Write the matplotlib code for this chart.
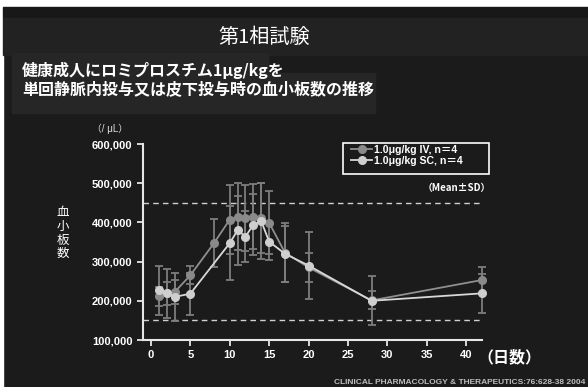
import matplotlib
matplotlib.use("Agg")
import matplotlib.pyplot as plt
from matplotlib.patches import Rectangle

# ---- data ----
iv_days = [1, 2, 3, 5, 8, 10, 11, 12, 13, 14, 15, 17, 20, 28, 42]
iv_mean = [211000, 219000, 222000, 265000, 347000, 407000, 415000, 411000, 415000, 412000, 399000, 323000, 285000, 201000, 253000]
iv_sd   = [23000, 30000, 30000, 23000, 62000, 88000, 86000, 85000, 83000, 89000, 80000, 75000, 37000, 23000, 34000]
sc_days = [1, 2, 3, 5, 10, 11, 12, 13, 14, 15, 17, 20, 28, 42]
sc_mean = [227000, 219000, 210000, 218000, 347000, 380000, 364000, 394000, 403000, 351000, 320000, 290000, 200000, 219000]
sc_sd   = [62000, 62000, 62000, 54000, 95000, 88000, 66000, 78000, 97000, 47000, 72000, 85000, 62000, 50000]
y_ticks = [100000, 200000, 300000, 400000, 500000, 600000]
x_ticks = [0, 5, 10, 15, 20, 25, 30, 35, 40]
normal_range = [150000, 450000]
legend_labels = ["1.0μg/kg IV, n＝4", "1.0μg/kg SC, n＝4"]

W, H = 588, 387
fig = plt.figure(figsize=(W / 100, H / 100), dpi=100)
fig.patch.set_facecolor("#1b1b1b")

LAT = ["Liberation Sans", "Noto Sans CJK JP", "DejaVu Sans"]
JP = ["Noto Sans CJK JP", "DejaVu Sans"]

def px(x, y):
    return x / W, 1 - y / H

# background decorations
bg = fig.add_axes([0, 0, 1, 1])
bg.set_xlim(0, W); bg.set_ylim(H, 0); bg.axis("off")
bg.add_patch(Rectangle((0, 0), W, 6.5, color="white"))
bg.add_patch(Rectangle((0, 0), 3, H, color="white"))
bg.add_patch(Rectangle((3, 6.5), W, 11, color="#181818"))
bg.add_patch(Rectangle((3, 17.5), W, 37, color="#222222"))
bg.add_patch(Rectangle((12, 53), 256, 25, color="#262626"))
bg.add_patch(Rectangle((12, 73), 363, 40, color="#262626"))

fig.text(*px(264, 37), "第1相試験", family=JP, fontsize=14.5, color="white",
         ha="center", va="center")
fig.text(*px(22, 70), "健康成人にロミプロスチム1μg/kgを", family=JP, fontsize=11.5,
         weight="bold", color="white", ha="left", va="center")
fig.text(*px(22, 89), "単回静脈内投与又は皮下投与時の血小板数の推移", family=JP, fontsize=11.5,
         weight="bold", color="white", ha="left", va="center")

ax = fig.add_axes([143 / W, 47 / H, 339 / W, 196 / H])
ax.set_facecolor("#1b1b1b")
ax.set_xlim(-1, 42)
ax.set_ylim(100000, 600000)

for v in normal_range:
    ax.axhline(v, color="#d0d0d0", lw=1.0, ls=(0, (4, 3)), zorder=1)

iv_col, sc_col = "#8a8a8a", "#cfcfcf"
ax.errorbar(iv_days, iv_mean, yerr=iv_sd, fmt="none", ecolor="#7d7d7d", elinewidth=1.3,
            capsize=3, capthick=1.3, zorder=2, clip_on=False)
ax.errorbar(sc_days, sc_mean, yerr=sc_sd, fmt="none", ecolor="#7d7d7d", elinewidth=1.3,
            capsize=3, capthick=1.3, zorder=2, clip_on=False)
l1, = ax.plot(iv_days, iv_mean, "-o", color="#8f8f8f", mfc=iv_col, mec=iv_col, ms=5.5,
              lw=1.3, zorder=3, clip_on=False)
l2, = ax.plot(sc_days, sc_mean, "-o", color="#d8d8d8", mfc=sc_col, mec=sc_col, ms=5.5,
              lw=1.3, zorder=4, clip_on=False)

for s in ["top", "right"]:
    ax.spines[s].set_visible(False)
for s in ["left", "bottom"]:
    ax.spines[s].set_color("#e6e6e6")
    ax.spines[s].set_linewidth(1.5)
ax.set_yticks(y_ticks)
ax.set_yticklabels([f"{v:,}" for v in y_ticks])
ax.set_xticks(x_ticks)
ax.tick_params(colors="#e6e6e6", width=1.3, length=4, direction="out")
for lab in ax.get_xticklabels() + ax.get_yticklabels():
    lab.set_family(LAT); lab.set_weight("bold"); lab.set_fontsize(8); lab.set_color("white")

# legend frame drawn separately (wider than its content in the original)
ax.add_patch(Rectangle(((343 - 143) / 339, (340 - 174) / 196), (489 - 343) / 339, 31 / 196,
                       transform=ax.transAxes, fill=False, edgecolor="white", lw=1.2,
                       clip_on=False, zorder=5))
leg = ax.legend([l1, l2], legend_labels, loc="upper left",
                bbox_to_anchor=((351 - 143) / 339, (340 - 145) / 196), frameon=False,
                prop={"family": LAT, "weight": "bold", "size": 7.6}, handlelength=2.0,
                handletextpad=0.2, borderpad=0, labelspacing=0.05, borderaxespad=0)
for t in leg.get_texts():
    t.set_color("white")

fig.text(*px(491, 188), "（Mean±SD）", family=JP, fontsize=7, weight="bold",
         color="white", ha="right", va="center")
fig.text(*px(110, 129), "（/ μL）", family=LAT, fontsize=7, color="#dddddd",
         ha="center", va="center")
for i, ch in enumerate("血小板数"):
    fig.text(*px(63, 213 + i * 13.5), ch, family=JP, fontsize=9, color="white",
             ha="center", va="center")
fig.text(*px(477, 357), "（日数）", family=JP, fontsize=11.5, weight="bold",
         color="white", ha="left", va="center")
fig.text(*px(585, 386), "CLINICAL PHARMACOLOGY & THERAPEUTICS:76:628-38 2004",
         family=LAT, fontsize=6, weight="bold", color="#bdbdbd", ha="right", va="bottom")

fig.savefig("out.png", dpi=100, facecolor=fig.get_facecolor())
